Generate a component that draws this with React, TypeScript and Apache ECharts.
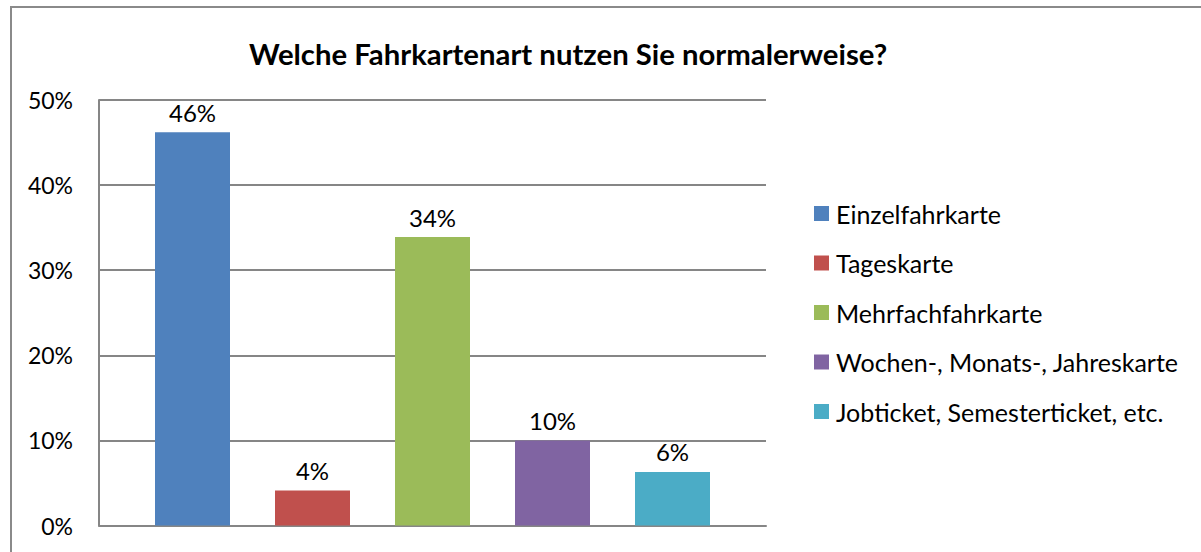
import React, { useEffect, useRef } from "react";
import * as echarts from "echarts";

const titleText = "Welche Fahrkartenart nutzen Sie normalerweise?";
const categories = [""];
const seriesNames = [
  "Einzelfahrkarte",
  "Tageskarte",
  "Mehrfachfahrkarte",
  "Wochen-, Monats-, Jahreskarte",
  "Jobticket, Semesterticket, etc.",
];
const seriesValues = [46.2, 4.1, 33.9, 10.0, 6.3];
const seriesColors = ["#4F81BD", "#C0504D", "#9BBB59", "#8064A2", "#4BACC6"];
const yTicks = { min: 0, max: 50, interval: 10 };

const FONT = "Lato, 'Open Sans', sans-serif";

export default function App() {
  const ref = useRef<HTMLDivElement>(null);
  useEffect(() => {
    if (!ref.current) return;
    const chart = echarts.init(ref.current, undefined, { renderer: "svg" });
    chart.setOption({
      animation: false,
      backgroundColor: "#ffffff",
      textStyle: { fontFamily: FONT },
      graphic: [
        {
          type: "rect",
          shape: { x: 11, y: 7, width: 1300, height: 700 },
          style: { fill: "none", stroke: "#8a8a8a", lineWidth: 2 },
          silent: true,
          z: 0,
        },
        {
          type: "text",
          x: 568,
          y: 53,
          style: {
            text: titleText,
            textAlign: "center",
            textVerticalAlign: "middle",
            fontFamily: FONT,
            fontWeight: "bold",
            fontSize: 29.3,
            fill: "#000000",
          },
        },
      ],
      legend: {
        orient: "vertical",
        left: 809,
        top: 196,
        itemWidth: 15,
        itemHeight: 15,
        itemGap: 24.5,
        icon: "rect",
        textStyle: {
          fontFamily: FONT,
          fontSize: 25,
          lineHeight: 22,
          color: "#000000",
          padding: [0, 0, 0, 2],
        },
        data: seriesNames,
      },
      grid: { left: 99, right: 435, top: 100, bottom: 26.5, containLabel: false },
      xAxis: {
        type: "category",
        data: categories,
        axisLine: { show: true, lineStyle: { color: "#868686", width: 2 } },
        axisTick: { show: false },
        axisLabel: { show: false },
      },
      yAxis: {
        type: "value",
        min: yTicks.min,
        max: yTicks.max,
        interval: yTicks.interval,
        axisLine: { show: true, lineStyle: { color: "#868686", width: 2 } },
        axisTick: { show: false },
        axisLabel: {
          formatter: "{value}%",
          fontFamily: FONT,
          fontSize: 23,
          color: "#000000",
          margin: 26,
        },
        splitLine: { show: true, lineStyle: { color: "#868686", width: 2 } },
      },
      series: seriesNames.map((name, i) => ({
        name,
        type: "bar",
        barWidth: 75,
        barGap: "60%",
        itemStyle: { color: seriesColors[i] },
        data: [seriesValues[i]],
        label: {
          show: true,
          position: "top",
          distance: 8,
          fontFamily: FONT,
          fontSize: 24,
          color: "#000000",
          formatter: (p: any) => Math.round(p.value) + "%",
        },
      })),
    });
    return () => chart.dispose();
  }, []);
  return (
    <div
      ref={ref}
      style={{ position: "absolute", left: 0, top: 0, width: 1201, height: 552 }}
    />
  );
}
